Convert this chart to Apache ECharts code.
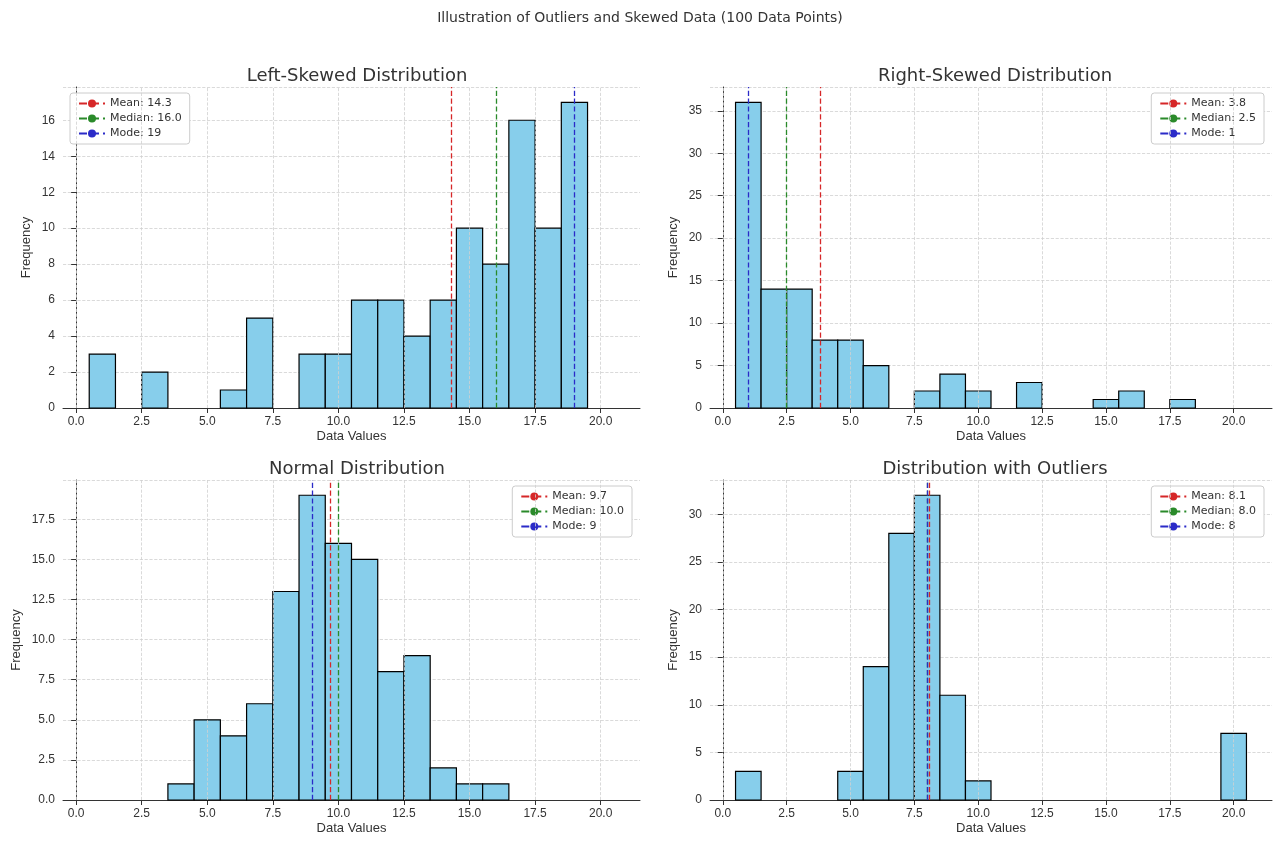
<!DOCTYPE html>
<html><head><meta charset="utf-8">
<script src="https://cdn.jsdelivr.net/npm/echarts@6/dist/echarts.min.js"></script>
<style>html,body{margin:0;background:#fff}#c{width:1280px;height:846px}</style>
</head><body><div id="c"></div>
<script>
const titles = ['Left-Skewed Distribution', 'Right-Skewed Distribution', 'Normal Distribution', 'Distribution with Outliers'];
// [bin center, count], bins are 1 unit wide
const leftSkewed = [[1,3],[3,2],[6,1],[7,5],[9,3],[10,3],[11,6],[12,6],[13,4],[14,6],[15,10],[16,8],[17,16],[18,10],[19,17]];
const rightSkewed = [[1,36],[2,14],[3,14],[4,8],[5,8],[6,5],[8,2],[9,4],[10,2],[12,3],[15,1],[16,2],[18,1]];
const normal = [[4,1],[5,5],[6,4],[7,6],[8,13],[9,19],[10,16],[11,15],[12,8],[13,9],[14,2],[15,1],[16,1]];
const outliers = [[1,3],[5,3],[6,14],[7,28],[8,32],[9,11],[10,2],[20,7]];
const stats = [[14.3,16.0,19],[3.8,2.5,1],[9.7,10.0,9],[8.1,8.0,8]];
const statLabels = [['Mean: 14.3','Median: 16.0','Mode: 19'],['Mean: 3.8','Median: 2.5','Mode: 1'],['Mean: 9.7','Median: 10.0','Mode: 9'],['Mean: 8.1','Median: 8.0','Mode: 8']];
const yMax = [17.85, 37.8, 19.95, 33.6];
const yStep = [2, 5, 2.5, 5];
const xTicks = [0, 2.5, 5, 7.5, 10, 12.5, 15, 17.5, 20];

const datasets = [leftSkewed, rightSkewed, normal, outliers];
const statColors = ['#d62728', '#2a8a2a', '#2b2bc8'];
const grids = [
  {left: 63, right: 640, top: 87, bottom: 438},
  {left: 710, right: 8, top: 87, bottom: 438},
  {left: 63, right: 640, top: 480, bottom: 46},
  {left: 710, right: 8, top: 480, bottom: 46}
];
const gridLine = {show: true, lineStyle: {color: '#d0d0d0', type: 'dashed', width: 0.8}};

const option = {
  animation: false,
  title: [{text: 'Illustration of Outliers and Skewed Data (100 Data Points)', left: 'center', top: 6,
    textStyle: {fontSize: 14, fontWeight: 'normal', color: '#333', fontFamily: 'DejaVu Sans'}}]
    .concat(titles.map((t, i) => ({
      text: t, left: (i % 2 ? 990 : 352), top: i < 2 ? 62 : 455, textAlign: 'center',
      textStyle: {fontSize: 18, fontWeight: 'normal', color: '#333', fontFamily: 'DejaVu Sans'}
    }))),
  grid: grids,
  legend: datasets.map((d, i) => ({
    data: statLabels[i],
    orient: 'vertical',
    top: grids[i].top + 6,
    left: i === 0 ? 70 : undefined,
    right: i === 0 ? undefined : (i % 2 ? 16 : 648),
    itemWidth: 26, itemHeight: 10, itemGap: 4,
    padding: [5, 8],
    borderColor: '#ccc', borderWidth: 1, borderRadius: 3, backgroundColor: '#fff',
    textStyle: {fontSize: 11, color: '#333', fontFamily: 'DejaVu Sans'}
  })),
  xAxis: datasets.map((d, i) => ({
    type: 'value', gridIndex: i, min: -0.5, max: 21.5,
    name: 'Data Values', nameLocation: 'middle', nameGap: 22,
    nameTextStyle: {fontSize: 13, color: '#333'},
    axisLine: {show: true, onZero: false, lineStyle: {color: '#333'}},
    axisTick: {show: true, customValues: xTicks, lineStyle: {color: '#333'}},
    axisLabel: {customValues: xTicks, color: '#333', fontSize: 12, formatter: v => v.toFixed(1)},
    splitLine: {show: false}
  })).concat(datasets.map((d, i) => ({
    type: 'value', gridIndex: i, min: 0, max: 20, interval: 2.5, show: false,
    position: 'top', splitLine: {show: false}
  }))),
  yAxis: datasets.map((d, i) => ({
    type: 'value', gridIndex: i, min: 0, max: yMax[i], interval: yStep[i],
    name: 'Frequency', nameLocation: 'middle', nameGap: i === 2 ? 40 : 30,
    nameTextStyle: {fontSize: 13, color: '#333'},
    axisLine: {show: true, lineStyle: {color: '#333'}},
    axisTick: {show: true, lineStyle: {color: '#333'}},
    axisLabel: {color: '#333', fontSize: 12, showMaxLabel: false,
      formatter: v => (yStep[i] === 2.5 ? v.toFixed(1) : String(v))},
    splitLine: gridLine
  })),
  series: []
};

datasets.forEach((data, i) => {
  // vertical grid lines at x ticks
  option.series.push({
    type: 'line', xAxisIndex: i, yAxisIndex: i, data: [], silent: true,
    markLine: {symbol: 'none', silent: true, label: {show: false},
      lineStyle: {color: '#d0d0d0', type: 'dashed', width: 0.8},
      data: xTicks.map(x => ({xAxis: x}))}
  });
  option.series.push({
    type: 'custom', xAxisIndex: i, yAxisIndex: i, data: data,
    renderItem: (params, api) => {
      const c = api.value(0), n = api.value(1);
      const p0 = api.coord([c - 0.5, n]);
      const p1 = api.coord([c + 0.5, 0]);
      return {type: 'rect', shape: {x: p0[0], y: p0[1], width: p1[0] - p0[0], height: p1[1] - p0[1]},
        style: {fill: '#87ceeb', stroke: '#000', lineWidth: 1.2}};
    },
    encode: {x: 0, y: 1}
  });
  stats[i].forEach((v, k) => {
    option.series.push({
      name: statLabels[i][k], type: 'line', xAxisIndex: i, yAxisIndex: i, data: [],
      symbol: 'none', color: statColors[k],
      lineStyle: {color: statColors[k], type: 'dashed', width: 1.2},
      markLine: {symbol: 'none', silent: true, label: {show: false},
        lineStyle: {color: statColors[k], type: 'dashed', width: 1.3},
        data: [{xAxis: v}]}
    });
  });
});

echarts.init(document.getElementById('c')).setOption(option);
</script></body></html>
